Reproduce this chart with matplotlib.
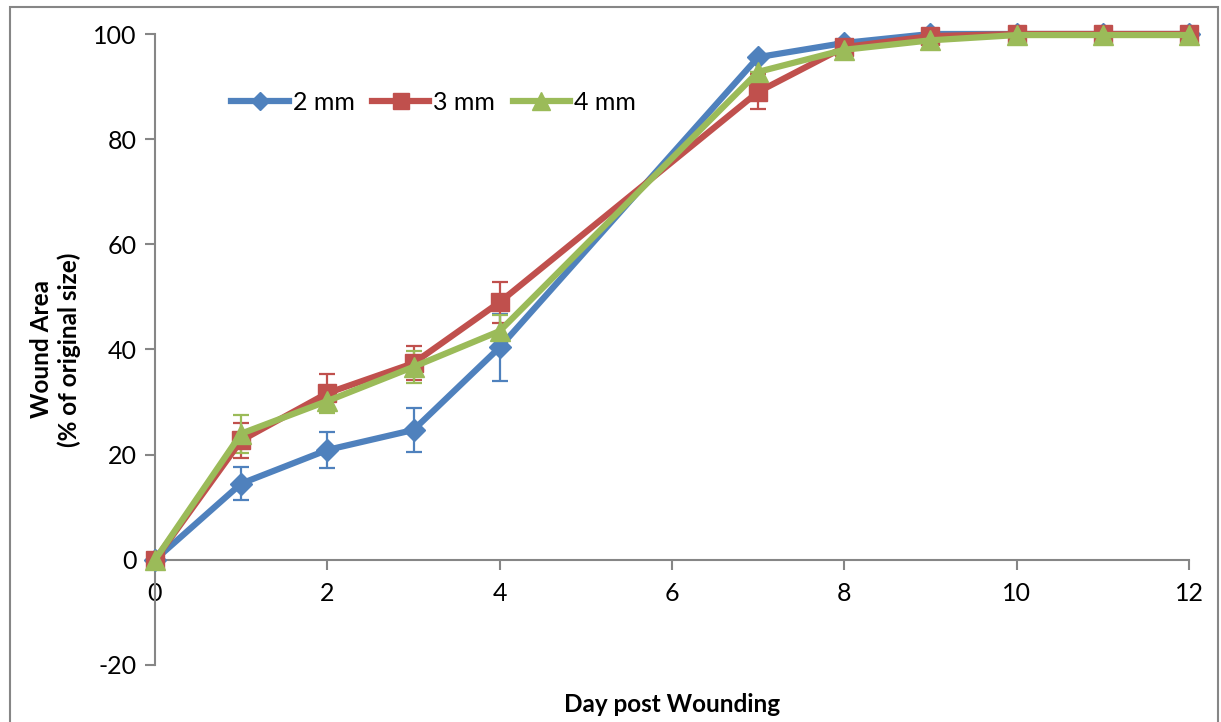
import matplotlib
matplotlib.use("Agg")
from matplotlib import pyplot as plt
from matplotlib.patches import Rectangle

plt.rcParams['font.family'] = ['Lato', 'DejaVu Sans']
plt.rcParams['axes.unicode_minus'] = False

days = [0, 1, 2, 3, 4, 7, 8, 9, 10, 11, 12]

mm2 = [0, 14.5, 20.9, 24.7, 40.4, 95.6, 98.3, 100, 100, 100, 100]
mm2_err = [0, 3.2, 3.4, 4.2, 6.4, 0, 0, 0, 0, 0, 0]

mm3 = [0, 22.7, 31.7, 37.4, 49.0, 89.0, 97.5, 99.6, 100, 100, 100]
mm3_err = [0, 3.4, 3.6, 3.2, 3.9, 3.3, 0, 0, 0, 0, 0]

mm4 = [0, 24.0, 30.2, 36.7, 43.5, 92.8, 97.0, 98.8, 99.8, 99.8, 99.8]
mm4_err = [0, 3.6, 2.3, 3.0, 3.0, 0, 0, 0, 0, 0, 0]

labels = ["2 mm", "3 mm", "4 mm"]
colors = ["#4F81BD", "#C0504D", "#9BBB59"]
markers = ["D", "s", "^"]
sizes = [11, 13, 15]

fig = plt.figure(figsize=(12.21, 7.22), dpi=100)
ax = fig.add_axes([155 / 1221, 1 - 665 / 722, (1189 - 155) / 1221, (665 - 34) / 722])

# border round the whole chart, like the Excel chart area
fig.patches.append(Rectangle((10 / 1221, -0.05), 1208 / 1221, 1.05 - 7 / 722,
                             transform=fig.transFigure, fill=False,
                             edgecolor="#868686", linewidth=1.5))

series = [(mm2, mm2_err), (mm3, mm3_err), (mm4, mm4_err)]
for (vals, err), lab, col, mk, ms in zip(series, labels, colors, markers, sizes):
    ax.errorbar(days, vals, yerr=err, fmt="none", ecolor=col, elinewidth=1.6,
                capsize=6, capthick=1.6, zorder=2)
    ax.plot(days, vals, color=col, linewidth=4.5, marker=mk, markersize=ms,
            label=lab, zorder=3, clip_on=False)

ax.set_xlim(0, 12)
ax.set_ylim(-20, 100)
ax.set_xticks(range(0, 13, 2))
ax.set_yticks(range(-20, 101, 20))

for s in ["top", "right"]:
    ax.spines[s].set_visible(False)
ax.spines["bottom"].set_position(("data", 0))
for s in ["left", "bottom"]:
    ax.spines[s].set_color("#868686")
    ax.spines[s].set_linewidth(1.5)

ax.tick_params(axis="both", direction="out", length=7, width=1.5,
               color="#868686", labelsize=18, pad=6)
ax.tick_params(axis="x", pad=9)

ax.set_xlabel("Day post Wounding", fontsize=17.5, fontweight="bold")
ax.xaxis.set_label_coords(0.5, -0.045)
ax.set_ylabel("Wound Area\n(% of original size)", fontsize=17.5,
              fontweight="bold", labelpad=9)

ax.legend(loc="upper left", bbox_to_anchor=(0.052, 0.945), ncol=3,
          frameon=False, fontsize=18, handlelength=2.3, handletextpad=0.15,
          columnspacing=0.7, markerscale=0.85)

fig.savefig("out.png", dpi=100)
